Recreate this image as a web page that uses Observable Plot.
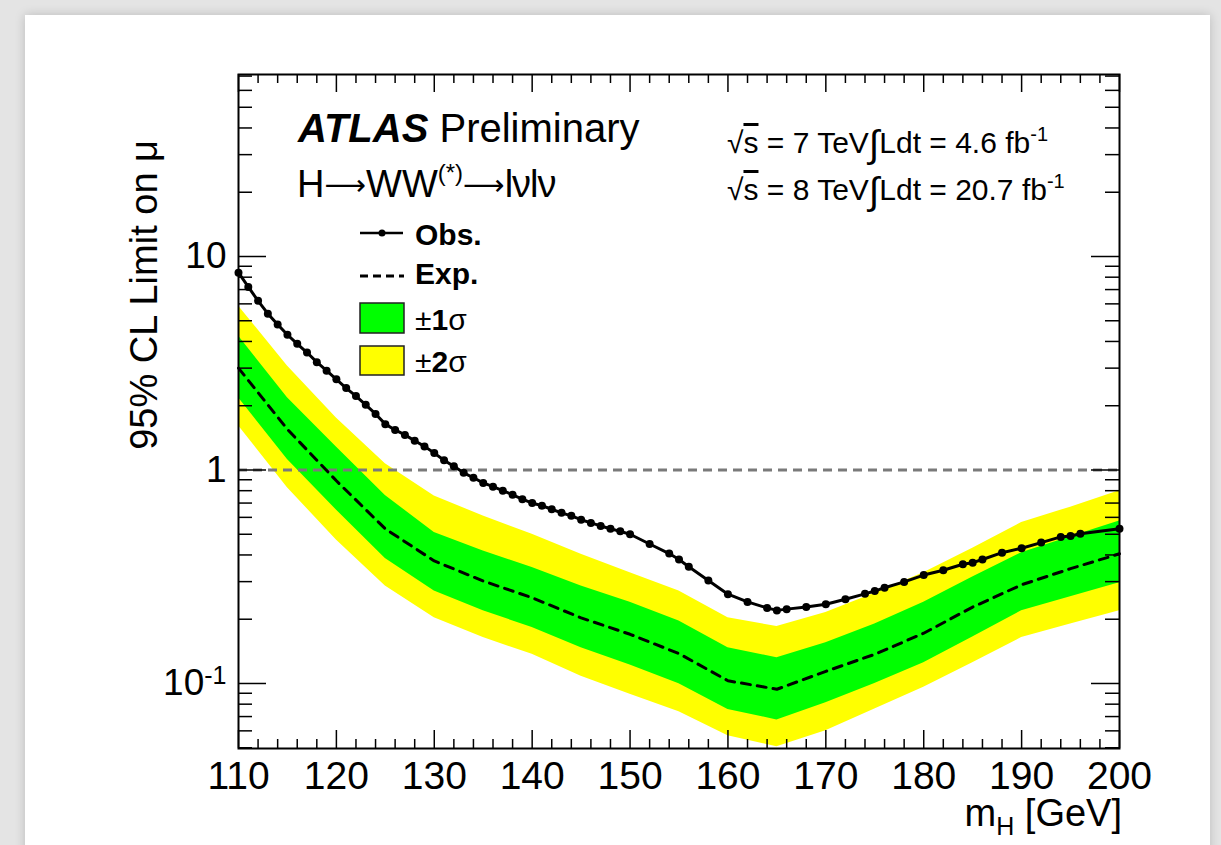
<!DOCTYPE html>
<html><head><meta charset="utf-8">
<script src="https://cdn.jsdelivr.net/npm/d3@7"></script>
<script src="https://cdn.jsdelivr.net/npm/@observablehq/plot@0.6"></script>
<style>
html,body{margin:0;padding:0;width:1221px;height:845px;overflow:hidden;background:#e4e4e4;}
#panel{position:absolute;left:25px;top:15px;width:1185px;height:840px;background:#fff;box-shadow:0 0 10px rgba(0,0,0,0.18);}
#chart{position:absolute;left:0;top:0;}
</style></head><body><div id="panel"></div><div id="chart"></div>
<script>
// ---- data ----
const obsMass = [110,111,112,113,114,115,116,117,118,119,120,121,122,123,124,125,126,127,128,129,130,
  131,132,133,134,135,136,137,138,139,140,141,142,143,144,145,146,147,148,149,150,
  152,154,155,156,158,160,162,164,165,166,168,170,172,174,175,176,178,180,182,184,185,186,188,190,192,194,195,196,200];
const obsLimit = [8.4,7.2,6.2,5.4,4.8,4.3,3.9,3.55,3.2,2.92,2.66,2.42,2.22,2.02,1.83,1.64,1.54,1.46,1.37,1.29,1.20,
  1.11,1.04,0.97,0.92,0.87,0.835,0.80,0.765,0.73,0.70,0.68,0.655,0.63,0.61,0.585,0.565,0.547,0.531,0.516,0.50,
  0.45,0.406,0.381,0.352,0.304,0.262,0.241,0.226,0.22,0.223,0.228,0.235,0.248,0.263,0.271,0.281,0.299,0.322,0.339,0.362,0.368,0.381,0.41,0.43,0.457,0.486,0.491,0.503,0.53];

const expMass  = [110,115,120,125,130,135,140,145,150,155,160,165,170,175,180,185,190,195,200];
const expLimit = [3.0,1.55,0.89,0.53,0.375,0.302,0.252,0.203,0.17,0.138,0.103,0.094,0.114,0.137,0.172,0.228,0.29,0.345,0.405];
const plus2s   = [5.87,3.07,1.75,1.07,0.755,0.609,0.50,0.403,0.33,0.271,0.203,0.185,0.215,0.265,0.33,0.43,0.567,0.67,0.80];
const plus1s   = [4.24,2.18,1.28,0.76,0.509,0.417,0.349,0.286,0.24,0.196,0.147,0.132,0.155,0.19,0.24,0.315,0.41,0.487,0.577];
const minus1s  = [2.18,1.12,0.65,0.385,0.271,0.219,0.183,0.147,0.122,0.0997,0.0756,0.0675,0.0813,0.10,0.125,0.165,0.219,0.255,0.296];
const minus2s  = [1.61,0.826,0.47,0.286,0.203,0.164,0.137,0.108,0.089,0.0738,0.0569,0.0505,0.06,0.076,0.096,0.125,0.164,0.19,0.219];

const xMajor = [110,120,130,140,150,160,170,180,190,200];
const xMinor = [112,114,116,118,122,124,126,128,132,134,136,138,142,144,146,148,152,154,156,158,162,164,166,168,172,174,176,178,182,184,186,188,192,194,196,198];
const yMajor = [0.1,1,10];
const yMinor = [0.05,0.06,0.07,0.08,0.09,0.2,0.3,0.4,0.5,0.6,0.7,0.8,0.9,2,3,4,5,6,7,8,9,20,30,40,50,60,70];
const yTickLabels = {"0.1":"10^-1","1":"1","10":"10"};

// ---- tables ----
const obs = obsMass.map((m,i)=>({m, v: obsLimit[i]}));
const band = expMass.map((m,i)=>({m, e: expLimit[i], p2: plus2s[i], p1: plus1s[i], m1: minus1s[i], m2: minus2s[i]}));

const FONT = "'Liberation Sans', Arial, Helvetica, sans-serif";
const W = 1221, H = 845, mL = 238, mR = 102, mT = 74, mB = 97;
const fw = W - mL - mR, fh = H - mT - mB;

const plot = Plot.plot({
  width: W, height: H, marginLeft: mL, marginRight: mR, marginTop: mT, marginBottom: mB,
  style: {background: "transparent", fontFamily: FONT, color: "black", overflow: "visible"},
  x: {domain: [110, 200]},
  y: {type: "log", domain: [0.0496, 71.2]},
  marks: [
    Plot.areaY(band, {x: "m", y1: "m2", y2: "p2", fill: "#ffff00"}),
    Plot.areaY(band, {x: "m", y1: "m1", y2: "p1", fill: "#00ff00"}),
    Plot.ruleY([1], {stroke: "#7a7a7a", strokeWidth: 3, strokeDasharray: "9,6"}),
    Plot.line(band, {x: "m", y: "e", stroke: "black", strokeWidth: 3, strokeDasharray: "9,7"}),
    Plot.line(obs, {x: "m", y: "v", stroke: "black", strokeWidth: 3}),
    Plot.dot(obs, {x: "m", y: "v", r: 4, fill: "black", stroke: "none"}),
    // inward ticks, all four sides
    Plot.tickX(xMajor, {x: d => d, insetTop: fh - 18, stroke: "black", strokeWidth: 1.5}),
    Plot.tickX(xMinor, {x: d => d, insetTop: fh - 9, stroke: "black", strokeWidth: 1.5}),
    Plot.tickX(xMajor, {x: d => d, insetBottom: fh - 18, stroke: "black", strokeWidth: 1.5}),
    Plot.tickX(xMinor, {x: d => d, insetBottom: fh - 9, stroke: "black", strokeWidth: 1.5}),
    Plot.tickY(yMajor, {y: d => d, insetRight: fw - 28, stroke: "black", strokeWidth: 1.5}),
    Plot.tickY(yMinor, {y: d => d, insetRight: fw - 14, stroke: "black", strokeWidth: 1.5}),
    Plot.tickY(yMajor, {y: d => d, insetLeft: fw - 28, stroke: "black", strokeWidth: 1.5}),
    Plot.tickY(yMinor, {y: d => d, insetLeft: fw - 14, stroke: "black", strokeWidth: 1.5}),
    Plot.frame({stroke: "black", strokeWidth: 2}),
    Plot.axisX({ticks: xMajor, tickSize: 0, tickPadding: 13, fontSize: 39, label: null, tickFormat: d => String(d)}),
    Plot.axisY({ticks: yMajor, tickSize: 0, tickPadding: 12, fontSize: 37, label: null, tickFormat: d => yTickLabels[String(d)]})
  ]
});
document.getElementById("chart").appendChild(plot);

const svg = d3.select(plot);
// superscript on 10^-1 tick label
svg.selectAll("text").filter(function(){ return this.textContent === "10^-1"; }).each(function(){
  const t = d3.select(this); t.text("10");
  t.append("tspan").attr("dy", "-0.45em").attr("font-size", "25px").text("-1");
});

const g = svg.append("g").attr("font-family", FONT).attr("fill", "black").attr("text-anchor", "start");

// ATLAS Preliminary
const t1 = g.append("text").attr("x", 298).attr("y", 142).attr("font-size", 40);
t1.append("tspan").attr("font-weight", "bold").attr("font-style", "italic").text("ATLAS");
t1.append("tspan").text(" Preliminary");

// H->WW(*)->lvlv
const t2 = g.append("text").attr("x", 297).attr("y", 197).attr("font-size", 38);
t2.append("tspan").text("H");
t2.append("tspan").attr("font-family", "'DejaVu Sans'").attr("font-size", 29).attr("dy", -2).text("⟶");
t2.append("tspan").attr("dy", 2).text("WW");
t2.append("tspan").attr("font-size", 24).attr("dy", -16).text("(*)");
t2.append("tspan").attr("font-family", "'DejaVu Sans'").attr("font-size", 29).attr("dy", 14).text("⟶");
t2.append("tspan").attr("dy", 2).attr("letter-spacing", -1).text("lνlν");

// energy / lumi lines
function lumiLine(y, e, l) {
  const t = g.append("text").attr("x", 727).attr("y", y).attr("font-size", 30);
  t.append("tspan").text("√");
  t.append("tspan").attr("style", "text-decoration: overline").text("s");
  t.append("tspan").text(" = " + e + " TeV");
  t.append("tspan").attr("font-size", 38).attr("dy", 4).text("∫");
  t.append("tspan").attr("dy", -4).text("Ldt = " + l + " fb");
  t.append("tspan").attr("font-size", 20).attr("dy", -12).text("-1");
}
lumiLine(153, "7", "4.6");
lumiLine(200, "8", "20.7");

// legend
const lg = g.append("g");
lg.append("line").attr("x1", 360).attr("x2", 403).attr("y1", 233).attr("y2", 233).attr("stroke", "black").attr("stroke-width", 2.5);
lg.append("circle").attr("cx", 382).attr("cy", 233).attr("r", 3.5).attr("fill", "black");
lg.append("text").attr("x", 415).attr("y", 245).attr("font-size", 30).attr("font-weight", "bold").text("Obs.");
lg.append("line").attr("x1", 360).attr("x2", 404).attr("y1", 276).attr("y2", 276).attr("stroke", "black").attr("stroke-width", 3).attr("stroke-dasharray", "8,5");
lg.append("text").attr("x", 415).attr("y", 284).attr("font-size", 30).attr("font-weight", "bold").text("Exp.");
lg.append("rect").attr("x", 360).attr("y", 303).attr("width", 44).attr("height", 30).attr("fill", "#00ff00").attr("stroke", "#222").attr("stroke-width", 1.5);
const s1 = lg.append("text").attr("x", 415).attr("y", 330).attr("font-size", 30);
s1.append("tspan").text("±"); s1.append("tspan").attr("font-weight", "bold").text("1"); s1.append("tspan").text("σ");
lg.append("rect").attr("x", 360).attr("y", 346).attr("width", 44).attr("height", 29).attr("fill", "#ffff00").attr("stroke", "#222").attr("stroke-width", 1.5);
const s2 = lg.append("text").attr("x", 415).attr("y", 372).attr("font-size", 30);
s2.append("tspan").text("±"); s2.append("tspan").attr("font-weight", "bold").text("2"); s2.append("tspan").text("σ");

// axis titles
g.append("text").attr("transform", "translate(157,140) rotate(-90)").attr("text-anchor", "end").attr("font-size", 38).text("95% CL Limit on μ");
const xt = g.append("text").attr("x", 1122).attr("y", 826).attr("text-anchor", "end").attr("font-size", 38);
xt.append("tspan").text("m");
xt.append("tspan").attr("font-size", 25).attr("dy", 9).text("H");
xt.append("tspan").attr("dy", -9).text(" [GeV]");
</script>
</body></html>
